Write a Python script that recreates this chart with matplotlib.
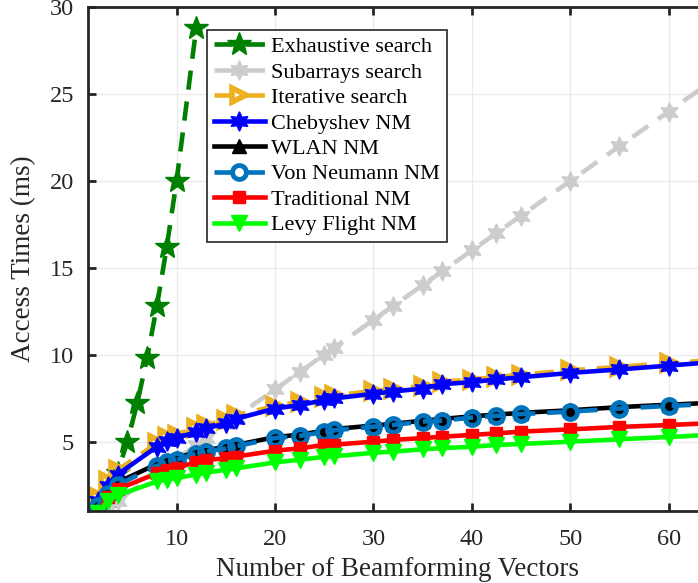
import matplotlib
matplotlib.use("Agg")
import matplotlib.pyplot as plt

plt.rcParams["font.family"] = ["Liberation Serif", "DejaVu Serif"]

# Number of beamforming vectors evaluated by the search schemes
x_exhaustive = [2, 3, 4, 5, 6, 7, 8, 9, 10, 12]
x_nm = [2, 3, 4, 8, 9, 10, 12, 13, 15, 16, 20, 22.5, 25, 26, 30, 32, 35, 37,
        40, 42.5, 45, 50, 55, 60, 64]

# Access times (ms)
exhaustive = [0.8, 1.8, 3.2, 5.0, 7.2, 9.8, 12.8, 16.2, 20.0, 28.8]
subarrays = [0.8, 1.2, 1.6, 3.2, 3.6, 4.0, 4.8, 5.2, 6.0, 6.4, 8.0, 9.0, 10.0,
             10.4, 12.0, 12.8, 14.0, 14.8, 16.0, 17.0, 18.0, 20.0, 22.0, 24.0, 25.6]
iterative = [1.8, 2.7, 3.35, 4.9, 5.25, 5.4, 5.8, 5.95, 6.25, 6.5, 7.05, 7.28,
             7.55, 7.65, 7.92, 8.02, 8.2, 8.45, 8.57, 8.72, 8.85, 9.1, 9.3,
             9.52, 9.66]
chebyshev = [1.55, 2.45, 3.1, 4.7, 5.05, 5.2, 5.55, 5.75, 6.05, 6.3, 6.9, 7.1,
             7.38, 7.48, 7.75, 7.88, 8.05, 8.3, 8.42, 8.58, 8.7, 8.95, 9.15,
             9.37, 9.55]
wlan = [1.4, 2.1, 2.65, 3.7, 3.9, 4.05, 4.4, 4.5, 4.7, 4.8, 5.25, 5.4, 5.62,
        5.72, 5.92, 6.02, 6.2, 6.3, 6.45, 6.55, 6.65, 6.8, 6.98, 7.12, 7.22]
von_neumann = [1.3, 1.95, 2.5, 3.6, 3.8, 3.95, 4.3, 4.42, 4.6, 4.72, 5.2, 5.32,
               5.55, 5.65, 5.85, 5.95, 6.15, 6.2, 6.38, 6.48, 6.58, 6.72, 6.9,
               7.05, 7.15]
traditional = [0.95, 1.8, 2.25, 3.17, 3.36, 3.46, 3.84, 3.94, 4.03, 4.13, 4.47,
               4.61, 4.8, 4.82, 4.99, 5.09, 5.2, 5.28, 5.38, 5.47, 5.57, 5.7,
               5.84, 5.95, 6.05]
levy = [0.9, 1.6, 1.9, 2.7, 2.8, 2.9, 3.1, 3.2, 3.38, 3.45, 3.8, 3.95, 4.12,
        4.15, 4.35, 4.42, 4.55, 4.62, 4.7, 4.8, 4.86, 4.99, 5.13, 5.26, 5.38]

labels = ["Exhaustive search", "Subarrays search", "Iterative search",
          "Chebyshev NM", "WLAN NM", "Von Neumann NM", "Traditional NM",
          "Levy Flight NM"]

hexagram = (6, 1, 0)
dash = (0, (4.2, 2.6))
axis_color = (0.15, 0.15, 0.15)

fig = plt.figure(figsize=(6.98, 5.83), dpi=100)
ax = fig.add_axes([88 / 698, 72 / 583, 620 / 698, 503.7 / 583])

ax.plot(x_exhaustive, exhaustive, ls=dash, lw=3.3, color=(0, 0.5, 0),
        marker="*", ms=18, mec=(0, 0.5, 0), mfc=(0, 0.5, 0), label=labels[0])
ax.plot(x_nm, subarrays, ls=dash, lw=3.3, color=(0.8, 0.8, 0.8),
        marker=hexagram, ms=14, mec=(0.8, 0.8, 0.8), mfc=(0.8, 0.8, 0.8),
        label=labels[1])
ax.plot(x_nm, iterative, ls=dash, lw=3.3, color=(0.93, 0.69, 0.13),
        marker=">", ms=10, mec=(0.93, 0.69, 0.13), mfc="none", mew=4,
        label=labels[2])
ax.plot(x_nm, chebyshev, ls="-", lw=3.3, color=(0, 0, 1), marker=hexagram,
        ms=14, mec=(0, 0, 1), mfc=(0, 0, 1), label=labels[3])
ax.plot(x_nm, wlan, ls="-", lw=3.3, color="black", marker="^", ms=10,
        mec="black", mfc="black", label=labels[4])
ax.plot(x_nm, von_neumann, ls=dash, lw=3.3, color=(0, 0.45, 0.74),
        marker="o", ms=10, mec=(0, 0.45, 0.74), mfc="none", mew=3.5,
        label=labels[5])
ax.plot(x_nm, traditional, ls="-", lw=3.3, color=(1, 0, 0), marker="s", ms=9,
        mec=(1, 0, 0), mfc=(1, 0, 0), label=labels[6])
ax.plot(x_nm, levy, ls="-", lw=3.3, color=(0, 1, 0), marker="v", ms=11,
        mec=(0, 1, 0), mfc=(0, 1, 0), label=labels[7])

ax.set_xlim(1, 64)
ax.set_ylim(1, 30)
ax.set_xticks([10, 20, 30, 40, 50, 60])
ax.set_yticks([5, 10, 15, 20, 25, 30])
ax.grid(True, color=(0.92, 0.92, 0.92), lw=1)
ax.set_axisbelow(True)

for side in ["left", "bottom", "top", "right"]:
    ax.spines[side].set_linewidth(2)
    ax.spines[side].set_color(axis_color)
ax.tick_params(direction="in", length=6, width=2, top=True, right=True,
               labelsize=17.5, colors=axis_color)
ax.tick_params(axis="x", pad=13)
ax.tick_params(axis="y", pad=10)

ax.set_xlabel("Number of Beamforming Vectors", fontsize=19.5,
              color=axis_color, labelpad=5)
ax.set_ylabel("Access Times (ms)", fontsize=19.5, color=axis_color,
              labelpad=10)

leg = ax.legend(loc="upper left", bbox_to_anchor=(0.192, 0.955),
                borderaxespad=0, fontsize=16, frameon=True, fancybox=False,
                edgecolor=axis_color, framealpha=1,
                handlelength=2.3, handletextpad=0.3, labelspacing=0.22,
                borderpad=0.3)
leg.get_frame().set_linewidth(1.2)

fig.savefig("out.png", dpi=100)
